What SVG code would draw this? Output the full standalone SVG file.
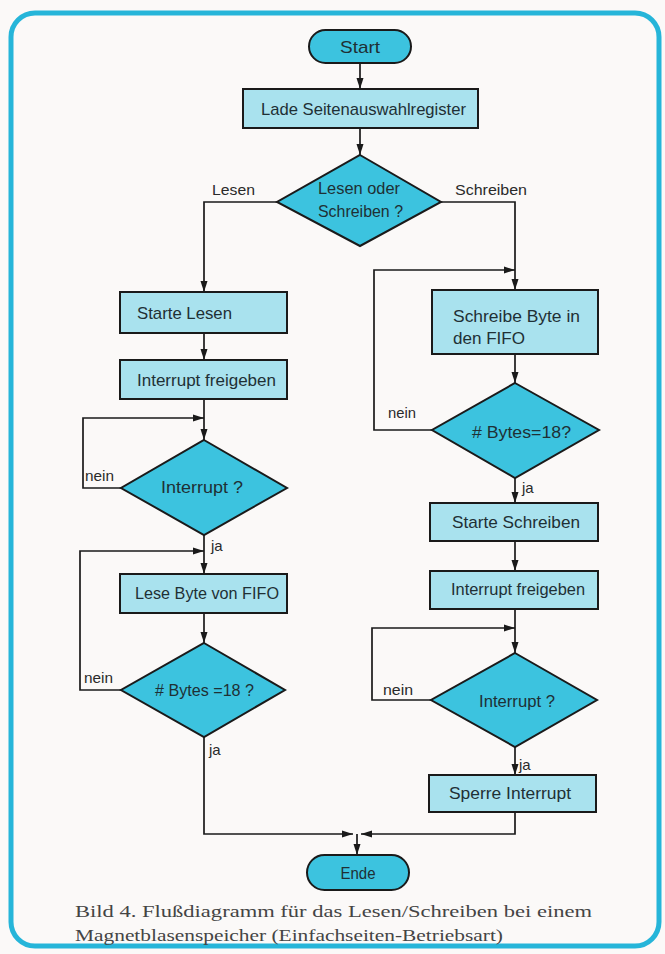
<svg xmlns="http://www.w3.org/2000/svg" width="665" height="954" viewBox="0 0 665 954">
<defs>
<marker id="arr" markerUnits="userSpaceOnUse" markerWidth="11" markerHeight="8" refX="11" refY="4" orient="auto">
<path d="M0,0.5 L11,4 L0,7.5 z" fill="#1a1a1a"/>
</marker>
<style>
.term{fill:#3cc3df;stroke:#1a1a1a;stroke-width:2}
.proc{fill:#a9e2ee;stroke:#1a1a1a;stroke-width:2}
.dec{fill:#3cc3df;stroke:#1a1a1a;stroke-width:2}
.t{font-family:"Liberation Sans",Arial,sans-serif;font-size:17px;fill:#1f3035}
.lbl{font-family:"Liberation Sans",Arial,sans-serif;font-size:15px;fill:#2a2a2a}
.cap{font-family:"Liberation Serif","Times New Roman",serif;font-size:16px;fill:#444}
.c path{fill:none;stroke:#1a1a1a;stroke-width:1.7;marker-end:url(#arr)}
</style>
</defs>
<rect width="665" height="954" fill="#fbf9f8"/>
<rect x="11" y="13" width="648" height="933" rx="24" fill="none" stroke="#26b5d9" stroke-width="5"/>

<g class="c" id="connectors">
<path d="M360,63 V89"/>
<path d="M360,128 V155"/>
<path d="M277,202 H204 V292"/>
<path d="M441,202 H515 V290"/>
<path d="M204,333 V360"/>
<path d="M204,399 V440"/>
<path d="M121,488 H83 V418 H204"/>
<path d="M204,535 V574"/>
<path d="M121,690 H80 V551 H204"/>
<path d="M204,613 V643"/>
<path d="M204,737 V834 H353"/>
<path d="M515,354 V383"/>
<path d="M432,430 H374 V270 H515"/>
<path d="M515,478 V503"/>
<path d="M515,541 V571"/>
<path d="M515,609 V653"/>
<path d="M431,700 H372 V628 H515"/>
<path d="M515,747 V775"/>
<path d="M515,812 V834 H361"/>
<path d="M357,834 V855"/>
</g>

<g id="start"><rect class="term" x="309" y="30" width="102" height="33" rx="16.5"/><text class="t" x="360" y="53" text-anchor="middle" textLength="40" lengthAdjust="spacingAndGlyphs">Start</text></g>
<g id="lade"><rect class="proc" x="243" y="89" width="235" height="39"/><text class="t" x="261" y="115" textLength="205" lengthAdjust="spacingAndGlyphs">Lade Seitenauswahlregister</text></g>
<g id="lesenoder"><polygon class="dec" points="360,155 441,202 360,246 277,202"/><text class="t" x="318" y="194" textLength="82" lengthAdjust="spacingAndGlyphs">Lesen oder</text><text class="t" x="318" y="217" textLength="85" lengthAdjust="spacingAndGlyphs">Schreiben ?</text></g>
<g id="labels-top"><text class="lbl" x="212" y="195" textLength="43" lengthAdjust="spacingAndGlyphs">Lesen</text><text class="lbl" x="455" y="195" textLength="72" lengthAdjust="spacingAndGlyphs">Schreiben</text></g>

<g id="startelesen"><rect class="proc" x="120" y="292" width="167" height="41"/><text class="t" x="137" y="319" textLength="95" lengthAdjust="spacingAndGlyphs">Starte Lesen</text></g>
<g id="intfrei1"><rect class="proc" x="120" y="360" width="167" height="39"/><text class="t" x="137" y="386" textLength="139" lengthAdjust="spacingAndGlyphs">Interrupt freigeben</text></g>
<g id="interrupt1"><polygon class="dec" points="204,440 287,488 204,535 121,488"/><text class="t" x="161" y="493" textLength="82" lengthAdjust="spacingAndGlyphs">Interrupt ?</text><text class="lbl" x="85" y="481" textLength="29" lengthAdjust="spacingAndGlyphs">nein</text><text class="lbl" x="211" y="551">ja</text></g>
<g id="lesebyte"><rect class="proc" x="120" y="574" width="167" height="39"/><text class="t" x="135" y="599" textLength="144" lengthAdjust="spacingAndGlyphs">Lese Byte von FIFO</text></g>
<g id="bytes1"><polygon class="dec" points="204,643 285,690 204,737 121,690"/><text class="t" x="155" y="696" textLength="99" lengthAdjust="spacingAndGlyphs"># Bytes =18 ?</text><text class="lbl" x="84" y="683" textLength="29" lengthAdjust="spacingAndGlyphs">nein</text><text class="lbl" x="209" y="755">ja</text></g>

<g id="schreibebyte"><rect class="proc" x="432" y="290" width="166" height="64"/><text class="t" x="453" y="322" textLength="127" lengthAdjust="spacingAndGlyphs">Schreibe Byte in</text><text class="t" x="453" y="344" textLength="72" lengthAdjust="spacingAndGlyphs">den FIFO</text></g>
<g id="bytes2"><polygon class="dec" points="515,383 599,430 515,478 432,430"/><text class="t" x="472" y="438" textLength="99" lengthAdjust="spacingAndGlyphs"># Bytes=18?</text><text class="lbl" x="388" y="418" textLength="28" lengthAdjust="spacingAndGlyphs">nein</text><text class="lbl" x="522" y="493">ja</text></g>
<g id="starteschreiben"><rect class="proc" x="430" y="503" width="168" height="38"/><text class="t" x="452" y="528" textLength="128" lengthAdjust="spacingAndGlyphs">Starte  Schreiben</text></g>
<g id="intfrei2"><rect class="proc" x="430" y="571" width="168" height="38"/><text class="t" x="451" y="595" textLength="134" lengthAdjust="spacingAndGlyphs">Interrupt freigeben</text></g>
<g id="interrupt2"><polygon class="dec" points="515,653 597,700 515,747 431,700"/><text class="t" x="479" y="707" textLength="76" lengthAdjust="spacingAndGlyphs">Interrupt ?</text><text class="lbl" x="383" y="695" textLength="30" lengthAdjust="spacingAndGlyphs">nein</text><text class="lbl" x="519" y="770">ja</text></g>
<g id="sperre"><rect class="proc" x="429" y="775" width="167" height="37"/><text class="t" x="449" y="799" textLength="122" lengthAdjust="spacingAndGlyphs">Sperre Interrupt</text></g>

<g id="ende"><rect class="term" x="307" y="855" width="102" height="35" rx="17.5"/><text class="t" x="358" y="879" text-anchor="middle" textLength="35" lengthAdjust="spacingAndGlyphs">Ende</text></g>

<g id="caption"><text class="cap" x="75" y="917" textLength="517" lengthAdjust="spacingAndGlyphs">Bild 4. Flußdiagramm für das Lesen/Schreiben bei einem</text><text class="cap" x="75" y="941" textLength="428" lengthAdjust="spacingAndGlyphs">Magnetblasenspeicher (Einfachseiten-Betriebsart)</text></g>
</svg>
